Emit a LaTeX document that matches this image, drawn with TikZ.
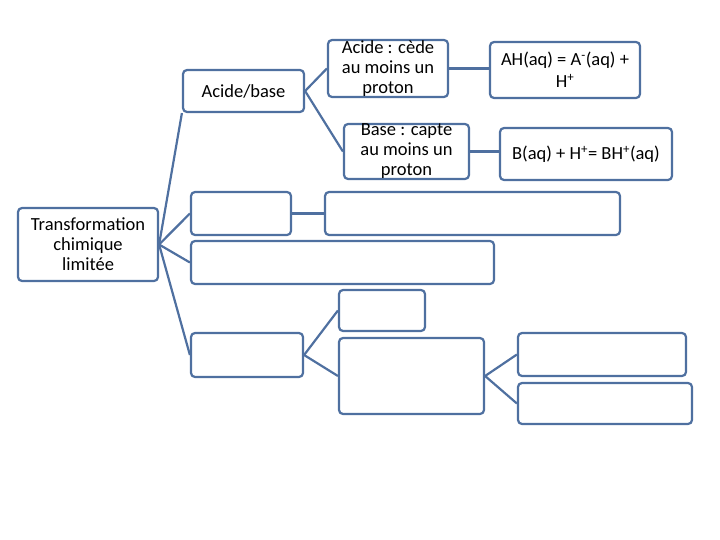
\documentclass[tikz,border=0pt]{standalone}
\usepackage{fontspec}
\setmainfont{Carlito}
\definecolor{bl}{RGB}{79,112,160}
\begin{document}
\begin{tikzpicture}[x=1pt,y=-1pt,
 bx/.style={draw=bl,line width=2.2pt,rounded corners=4pt,fill=white,inner sep=0pt,align=center,font=\fontsize{18.5}{20}\selectfont},
 ln/.style={draw=bl,line width=2.2pt}]
\useasboundingbox (0,0) rectangle (720,540);
\newcommand\bb[6]{\node[bx,minimum width=#4-#2,minimum height=#5-#3] (#1) at ({(#2+#4)/2},{(#3+#5)/2}) {#6};}
\bb{tc}{18}{208}{158}{281}{Transformation\\chimique\\limitée}
\bb{ab}{183}{70}{304}{112}{Acide/base}
\bb{ac}{328}{40}{448}{97}{Acide : cède\\au moins un\\proton}
\bb{bc}{344}{124}{469}{179}{Base : capte\\au moins un\\proton}
\bb{ah}{490}{42}{640}{98}{AH(aq) = A\textsuperscript{-}(aq) +\\[2pt]H\textsuperscript{+}}
\bb{bh}{500}{128}{672}{180}{B(aq) + H\textsuperscript{+}= BH\textsuperscript{+}(aq)}
\bb{e1}{191}{192}{291}{235}{}
\bb{e1r}{325}{192}{620}{235}{}
\bb{e2}{191}{241}{494}{284}{}
\bb{e3}{191}{333}{303}{377}{}
\bb{s1}{339}{290}{425}{331}{}
\bb{s2}{339}{338}{484}{414}{}
\bb{r1}{518}{333}{686}{376}{}
\bb{r2}{518}{383}{692}{424}{}
\draw[ln] (tc.east) -- (ab.south west);
\draw[ln] (tc.east) -- (e1.west);
\draw[ln] (tc.east) -- (e2.west);
\draw[ln] (tc.east) -- (e3.west);
\draw[ln] (ab.east) -- (ac.west);
\draw[ln] (ab.east) -- (bc.west);
\draw[ln] (ac.east) -- (ac.east -| ah.west);
\draw[ln] (bc.east) -- (bc.east -| bh.west);
\draw[ln] (e1.east) -- (e1r.west);
\draw[ln] (e3.east) -- (s1.west);
\draw[ln] (e3.east) -- (s2.west);
\draw[ln] (s2.east) -- (r1.west);
\draw[ln] (s2.east) -- (r2.west);
\end{tikzpicture}
\end{document}
